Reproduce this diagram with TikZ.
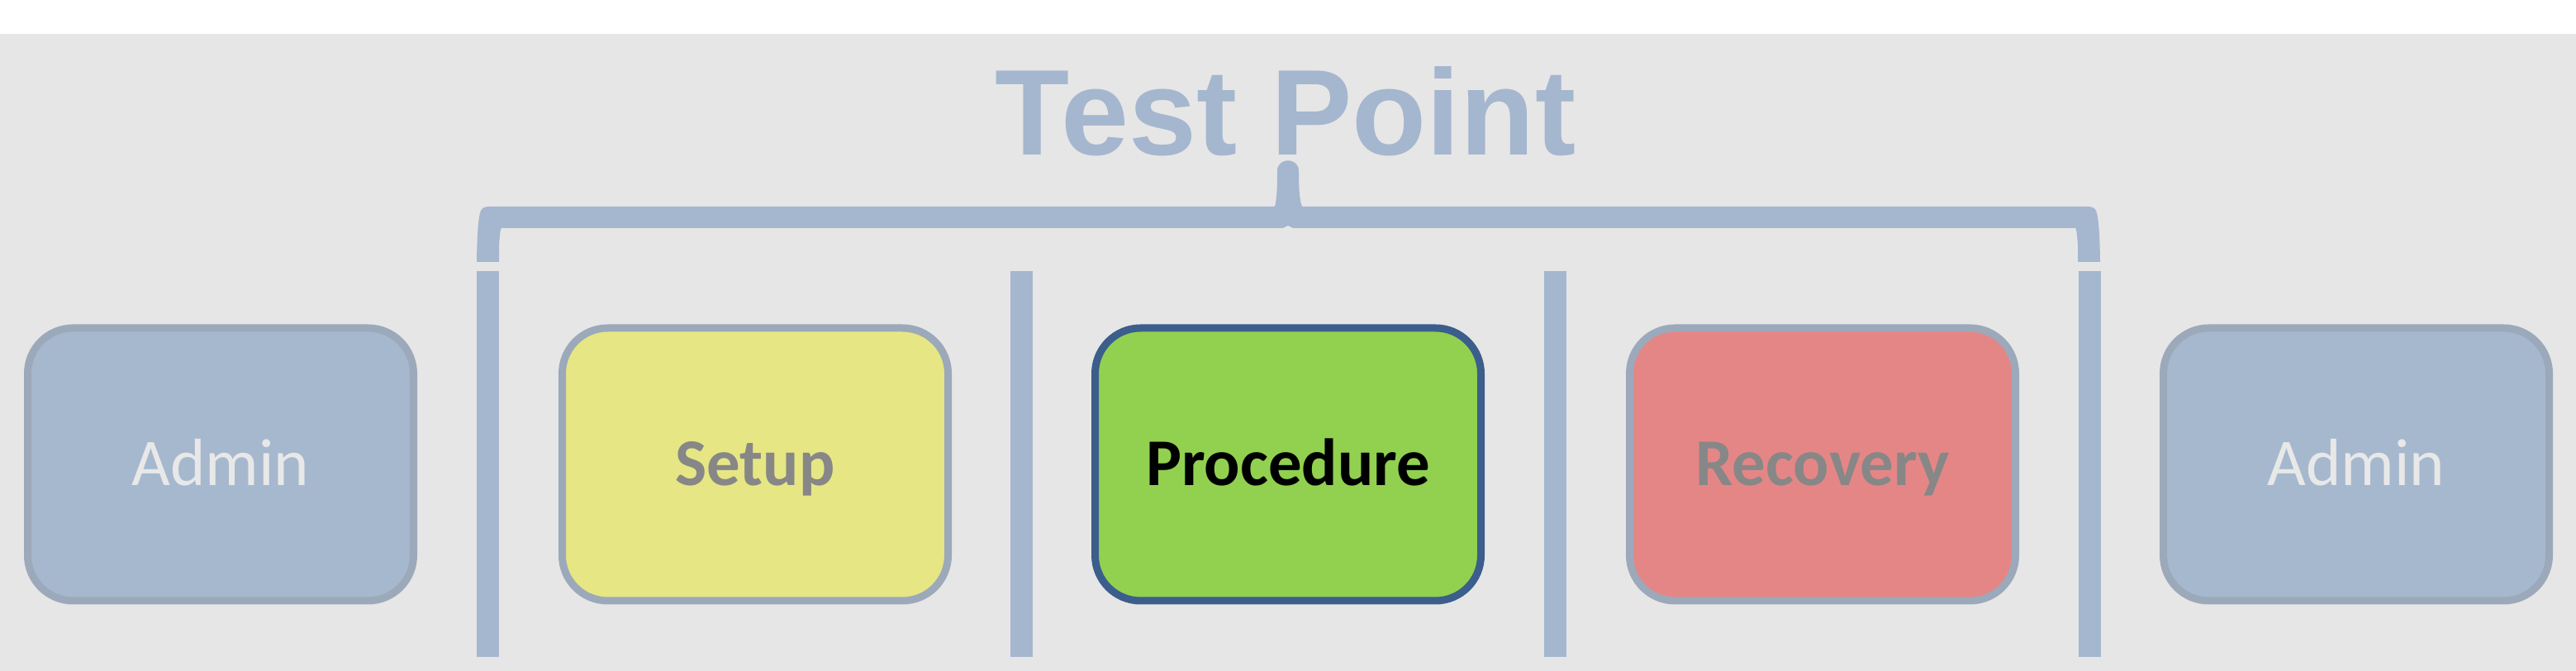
\documentclass[tikz,border=0pt]{standalone}
\usepackage{fontspec}
\setmainfont{Carlito}
\newfontfamily\titlefont{Liberation Sans}
\usetikzlibrary{calc}
\definecolor{bggrey}{HTML}{E6E6E6}
\definecolor{bracketblue}{HTML}{A5B6CF}
\definecolor{phaseline}{HTML}{9CA9BA}
\definecolor{adminfill}{HTML}{A5B8CE}
\definecolor{admintext}{HTML}{E8E8E8}
\definecolor{setupfill}{HTML}{E6E684}
\definecolor{procfill}{HTML}{92D14F}
\definecolor{procline}{HTML}{3B5E8C}
\definecolor{recovfill}{HTML}{E58686}
\definecolor{labelgrey}{HTML}{878787}

\begin{document}
\begin{tikzpicture}[phase/.style={draw=phaseline,rounded corners=0.55cm,minimum width=4.67cm,minimum height=3.30cm,
    line width=0.09cm,inner sep=0pt,font=\fontsize{23}{23}\selectfont,text height=14.8pt,text depth=0pt},
  divider/.style={draw=bracketblue,line width=0.27cm}]
  \useasboundingbox (0,0) rectangle (31.18,8.12);
  \fill[bggrey] (0,0) rectangle (31.18,7.71);
  \path (2.67,2.50) node[phase,fill=adminfill,text=admintext] (admin1) {Admin}
  (9.14,2.50) node[phase,fill=setupfill,text=labelgrey] (setup) {\textbf{Setup}}
  (15.59,2.50) node[phase,fill=procfill,draw=procline,text=black] (proc) {\textbf{Procedure}}
  (22.06,2.50) node[phase,fill=recovfill,text=labelgrey] (recov) {\textbf{Recovery}}
  (28.52,2.50) node[phase,fill=adminfill,text=admintext] (admin2) {Admin};
  \foreach \a/\b in {admin1/setup,setup/proc,proc/recov,recov/admin2}
    \draw[divider] ($(\a.east)!0.5!(\b.west)+(0,-2.33)$) -- ($(\a.east)!0.5!(\b.west)+(0,2.34)$);
  % brace over the test point
  \fill[bracketblue] (5.77,4.95) .. controls (5.775,5.30) and (5.79,5.50) .. (5.82,5.57)
    .. controls (5.84,5.61) and (5.87,5.62) .. (5.94,5.62)
    -- (15.43,5.62) .. controls (15.46,5.72) and (15.46,5.95) .. (15.46,6.05)
    .. controls (15.46,6.22) and (15.72,6.22) .. (15.72,6.05)
    .. controls (15.72,5.95) and (15.72,5.72) .. (15.76,5.62)
    -- (25.25,5.62) .. controls (25.32,5.62) and (25.35,5.61) .. (25.37,5.57)
    .. controls (25.40,5.50) and (25.415,5.30) .. (25.42,4.95)
    -- (25.15,4.95) -- (25.15,5.15) .. controls (25.14,5.30) and (25.13,5.36) .. (25.12,5.36)
    -- (15.65,5.36) -- (15.59,5.39) -- (15.53,5.36) -- (6.07,5.36)
    .. controls (6.06,5.36) and (6.05,5.30) .. (6.04,5.15) -- (6.04,4.95) -- cycle;
  \node[text=bracketblue,font=\titlefont\fontsize{42}{42}\selectfont\bfseries,anchor=base,inner sep=0pt] (title) at (15.56,6.24) {Test Point};
\end{tikzpicture}
\end{document}
